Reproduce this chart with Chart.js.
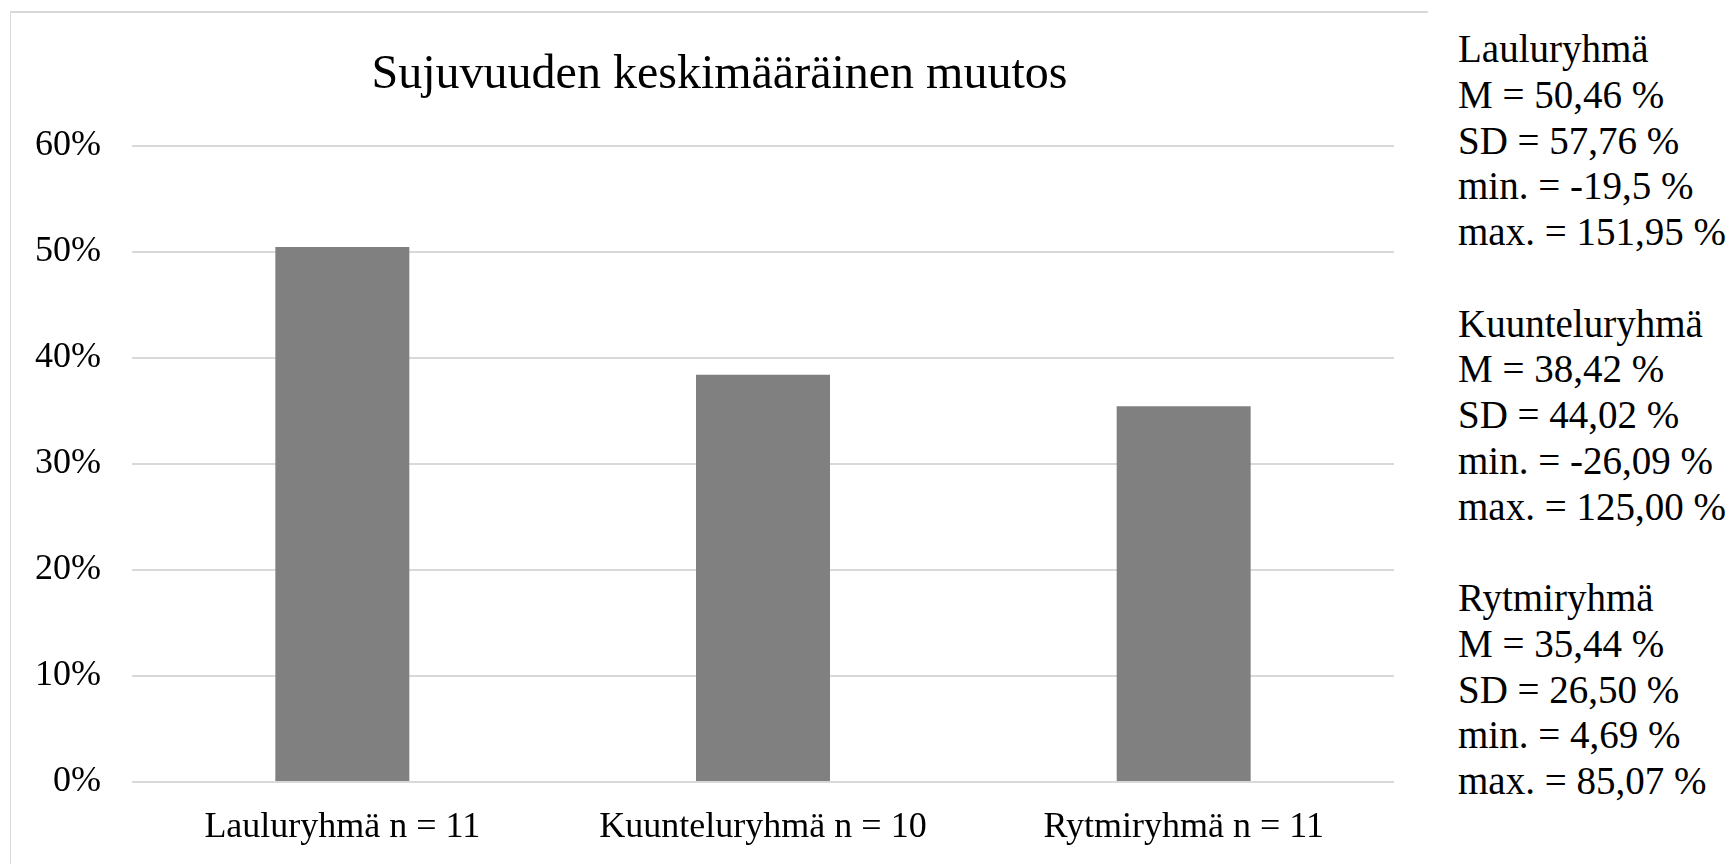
<!DOCTYPE html>
<html>
<head>
<meta charset="utf-8">
<script src="https://cdn.jsdelivr.net/npm/chart.js@4/dist/chart.umd.min.js"></script>
<style>
  html, body { margin: 0; padding: 0; background: #fff; }
  body { width: 1732px; height: 864px; position: relative; overflow: hidden; font-family: "Liberation Serif", "Times New Roman", serif; }
  #box { position: absolute; left: 10px; top: 11px; width: 1417px; height: 860px; border-top: 2px solid #d9d9d9; border-left: 1px solid #d9d9d9; }
  #chart { position: absolute; left: 0; top: 0; }
  #stats { position: absolute; left: 1458px; top: 26px; font-size: 39px; color: #000; }
  #stats div { height: 45.75px; line-height: 45.75px; white-space: pre; }
</style>
</head>
<body>
<div id="box"><canvas id="chart" width="1417" height="851"></canvas></div>
<div id="stats"></div>
<script>
const title = "Sujuvuuden keskimääräinen muutos";
const groups = ["Lauluryhmä", "Kuunteluryhmä", "Rytmiryhmä"];
const counts = [11, 10, 11];
const means = [50.46, 38.42, 35.44];
const yTicks = [0, 10, 20, 30, 40, 50, 60];

// tekstit oikealla, kuten kuvassa (pilkku desimaalina)
const meanText = ["50,46", "38,42", "35,44"];
const sdText = ["57,76", "44,02", "26,50"];
const minText = ["-19,5", "-26,09", "4,69"];
const maxText = ["151,95", "125,00", "85,07"];

(function() {
  const serif = '"Liberation Serif", "Times New Roman", serif';

  function el(id) {
    return document.getElementById(id);
  }

  // sivupaneelin rivit
  const lines = [];
  groups.forEach((g, i) => {
    if (i > 0) lines.push("");
    lines.push(g);
    lines.push(`M = ${meanText[i]} %`);
    lines.push(`SD = ${sdText[i]} %`);
    lines.push(`min. = ${minText[i]} %`);
    lines.push(`max. = ${maxText[i]} %`);
  });
  el("stats").innerHTML = lines.map(l => `<div>${l || " "}</div>`).join("");

  const labels = groups.map((g, i) => `${g} n = ${counts[i]}`);

  new Chart(el("chart"), {
    type: "bar",
    data: {
      labels: labels,
      datasets: [{
        data: means,
        backgroundColor: "#808080",
        borderWidth: 0,
        categoryPercentage: 1,
        barPercentage: 0.3185
      }]
    },
    options: {
      responsive: false,
      animation: false,
      plugins: {
        legend: { display: false },
        tooltip: { enabled: false },
        title: {
          display: true,
          text: title,
          color: "#000",
          font: { family: serif, size: 48, weight: "normal" },
          padding: { top: 34, bottom: 41.4 }
        }
      },
      scales: {
        x: {
          grid: { display: false },
          border: { display: false },
          ticks: { color: "#000", font: { family: serif, size: 36 }, padding: 16 },
          afterFit(s) { s.height = 82; }
        },
        y: {
          min: yTicks[0],
          max: yTicks[yTicks.length - 1],
          afterBuildTicks(s) { s.ticks = yTicks.map(v => ({ value: v })); },
          ticks: {
            color: "#000",
            font: { family: serif, size: 36 },
            padding: 31,
            callback: v => v + "%"
          },
          grid: { color: "#d9d9d9", lineWidth: 2, drawTicks: false },
          border: { display: false },
          afterFit(s) { s.width = 121; }
        },
        // tyhjä tila oikealla, jotta otsikko pysyy laatikon keskellä
        yRight: {
          position: "right",
          grid: { display: false },
          border: { display: false },
          ticks: { display: false },
          afterFit(s) { s.width = 34; }
        }
      }
    }
  });
})();
</script>
</body>
</html>
